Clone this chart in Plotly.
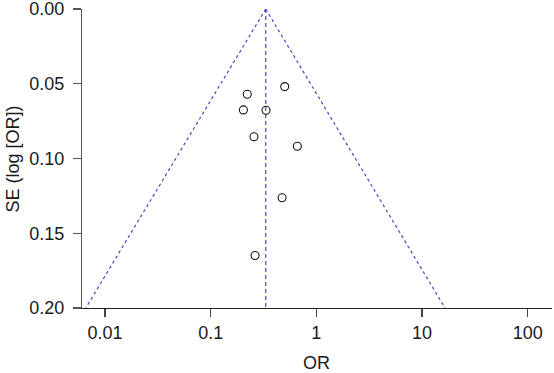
import numpy as np
import plotly.graph_objects as go

# Study-level data
odds_ratio = [0.222, 0.502, 0.204, 0.334, 0.257, 0.661, 0.474, 0.263]
se_log_or = [0.0570, 0.0519, 0.0675, 0.0677, 0.0855, 0.0918, 0.1263, 0.1649]

# Pooled estimate and funnel limits
pooled_or = 0.332
funnel_se = [0.0, 0.2]
funnel_left = [0.332, 0.00658]
funnel_right = [0.332, 16.5]

y_ticks = [0.00, 0.05, 0.10, 0.15, 0.20]
x_ticks = [0.01, 0.1, 1, 10, 100]
x_tick_labels = ["0.01", "0.1", "1", "10", "100"]

W, H = 554, 373
L, R, T, B = 73, 2, 9, 65
plot_w = W - L - R
plot_h = H - T - B

fnt = dict(family="Liberation Sans, Arial, sans-serif", size=18, color="#1a1a1a")
funnel_color = "#4646c8"

fig = go.Figure()
fig.add_trace(go.Scatter(x=funnel_left, y=funnel_se, mode="lines",
                         line=dict(color=funnel_color, width=1.2, dash="3px,3px"),
                         hoverinfo="skip", showlegend=False))
fig.add_trace(go.Scatter(x=funnel_right, y=funnel_se, mode="lines",
                         line=dict(color=funnel_color, width=1.2, dash="3px,3px"),
                         hoverinfo="skip", showlegend=False))
fig.add_trace(go.Scatter(x=[pooled_or, pooled_or], y=funnel_se, mode="lines",
                         line=dict(color=funnel_color, width=1.2, dash="4px,3px"),
                         hoverinfo="skip", showlegend=False))
fig.add_trace(go.Scatter(x=odds_ratio, y=se_log_or, mode="markers",
                         marker=dict(symbol="circle-open", size=8, color="#111111",
                                     line=dict(width=1.1, color="#111111")),
                         cliponaxis=False, showlegend=False))

x_left_log = np.log10(0.01) + (L - 105.0) / 105.7
x_right_log = np.log10(100) + (W - R - 527.7) / 105.7

fig.update_layout(
    width=W, height=H,
    margin=dict(l=L, r=R, t=T, b=B, autoexpand=False),
    paper_bgcolor="white", plot_bgcolor="white",
    font=fnt,
    xaxis=dict(type="log", range=[x_left_log, x_right_log],
               tickvals=x_ticks, ticktext=x_tick_labels,
               showgrid=False, zeroline=False,
               showline=True, linecolor="#222222", linewidth=1.3,
               ticks="outside", ticklen=8, tickcolor="#444444", tickwidth=1.2,
               ticklabeloverflow="allow", automargin=False,
               tickfont=fnt),
    yaxis=dict(range=[0.2, 0.0], tickvals=y_ticks, tickformat=".2f",
               showgrid=False, zeroline=False,
               showline=True, linecolor="#555555", linewidth=1.3,
               ticks="outside", ticklen=8, tickcolor="#555555", tickwidth=1.2,
               anchor="free", position=(81 - L) / plot_w,
               ticklabeloverflow="allow", automargin=False,
               ticklabelstandoff=5,
               tickfont=fnt),
    annotations=[
        dict(text="SE (log [OR])", xref="paper", yref="paper",
             x=(12 - L) / plot_w, y=0.5, xanchor="center", yanchor="middle",
             textangle=-90, showarrow=False, font=fnt),
        dict(text="OR", xref="paper", yref="paper",
             x=(316.3 - L) / plot_w, y=(T + plot_h - 362.7) / plot_h,
             xanchor="center", yanchor="middle", showarrow=False, font=fnt),
    ],
)

fig.write_html("out.html",
               config={"displayModeBar": False, "staticPlot": True},
               post_script="document.body.style.margin='0';document.body.style.overflow='hidden';")
